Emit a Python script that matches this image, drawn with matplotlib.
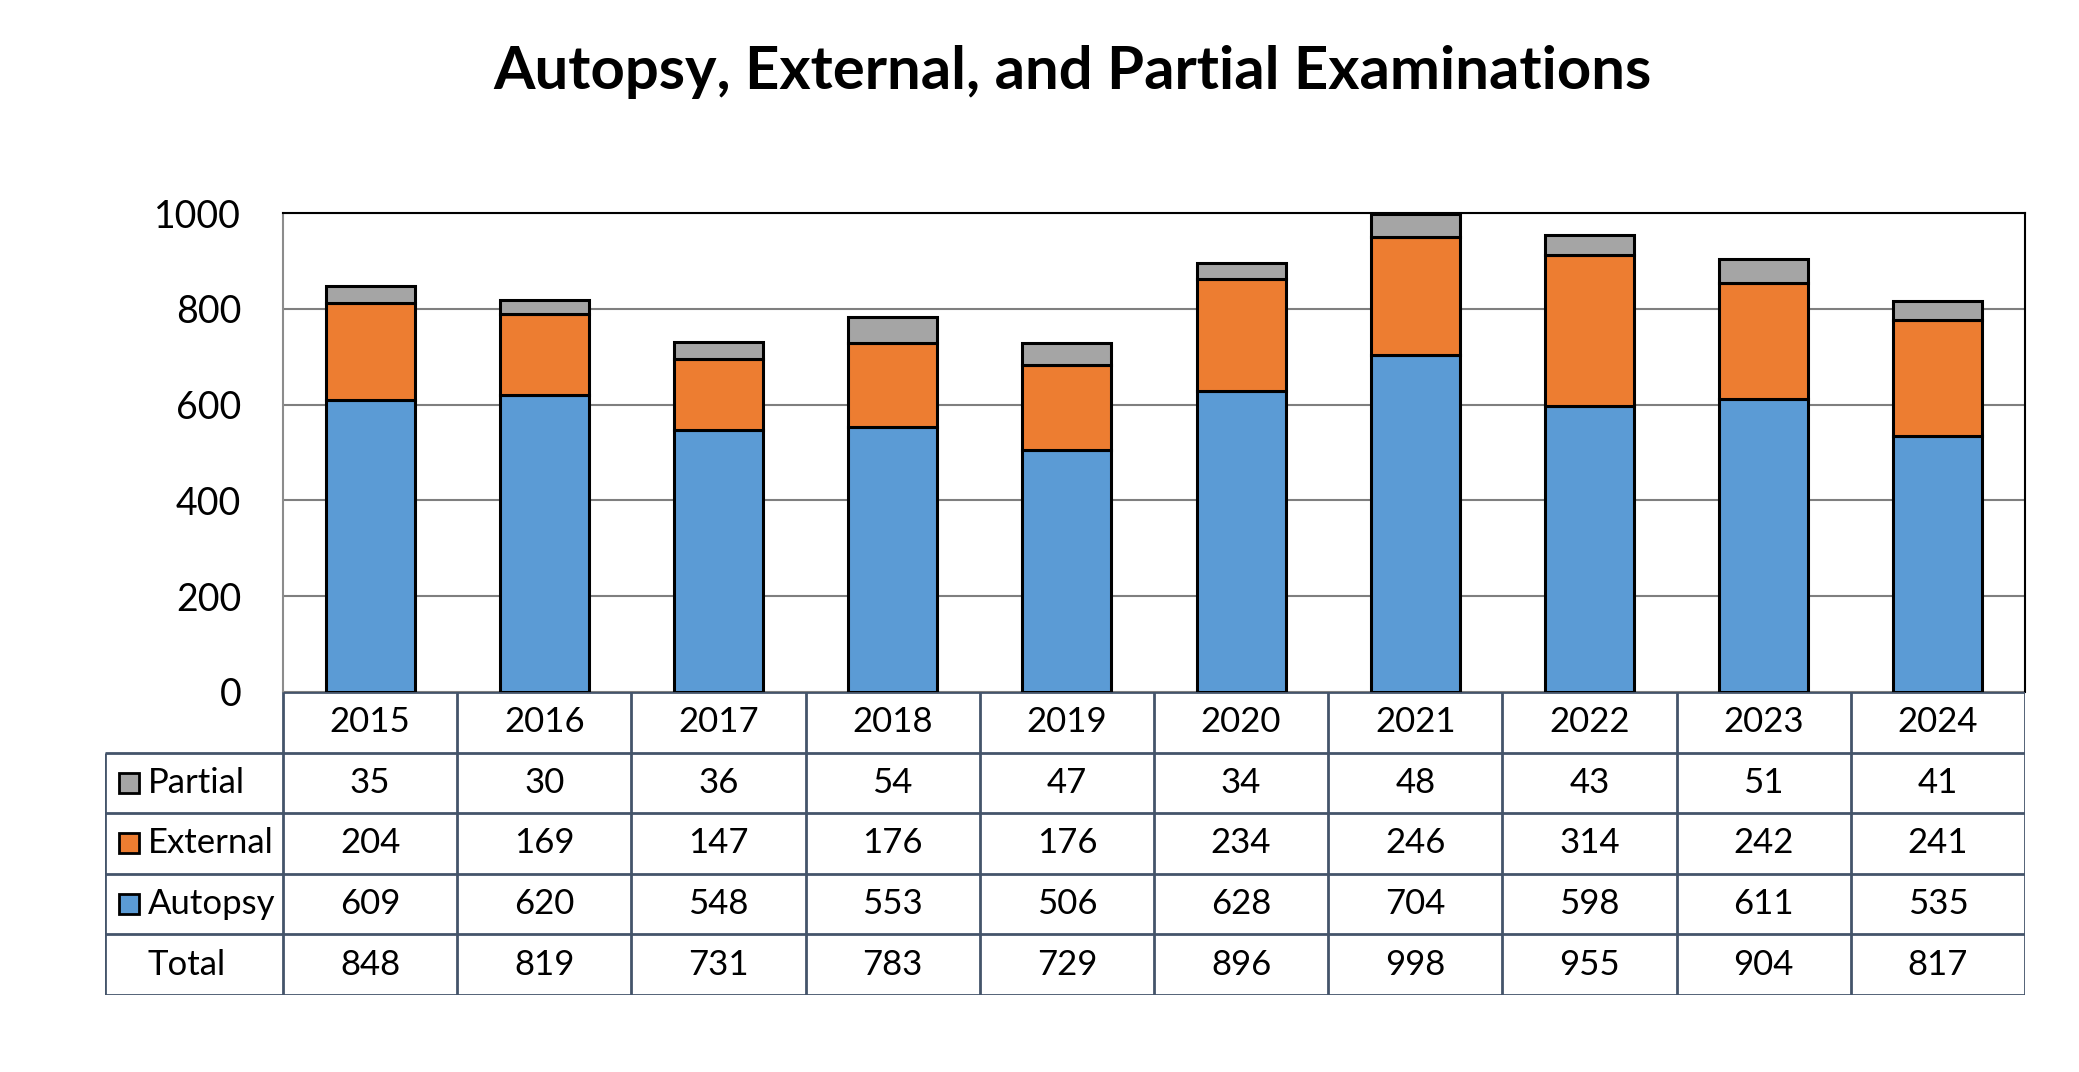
import matplotlib
matplotlib.use("Agg")
import matplotlib.pyplot as plt
from matplotlib.patches import Rectangle

# 数据
years = ["2015", "2016", "2017", "2018", "2019", "2020", "2021", "2022", "2023", "2024"]
autopsy = [609, 620, 548, 553, 506, 628, 704, 598, 611, 535]
external = [204, 169, 147, 176, 176, 234, 246, 314, 242, 241]
partial = [35, 30, 36, 54, 47, 34, 48, 43, 51, 41]
total = [848, 819, 731, 783, 729, 896, 998, 955, 904, 817]

series_colors = {"Autopsy": "#5B9BD5", "External": "#ED7D31", "Partial": "#A5A5A5"}

plt.rcParams["font.family"] = ["Lato", "DejaVu Sans"]

W, H = 2079, 1072
fig = plt.figure(figsize=(W / 100, H / 100), dpi=100)

# 主图区域（像素位置换算成比例）
px_left, px_right, px_top, px_bottom = 283, 2025, 213, 692
ax = fig.add_axes([px_left / W, 1 - px_bottom / H,
                   (px_right - px_left) / W, (px_bottom - px_top) / H])

x = list(range(len(years)))
bottom2 = [a + e for a, e in zip(autopsy, external)]
kw = dict(width=0.51, edgecolor="black", linewidth=2.2, zorder=3)
ax.bar(x, autopsy, color=series_colors["Autopsy"], **kw)
ax.bar(x, external, bottom=autopsy, color=series_colors["External"], **kw)
ax.bar(x, partial, bottom=bottom2, color=series_colors["Partial"], **kw)

ax.set_xlim(-0.5, len(years) - 0.5)
ax.set_ylim(0, 1000)
ax.set_yticks([0, 200, 400, 600, 800, 1000])
ax.set_xticks([])
ax.tick_params(axis="y", length=0, pad=30, labelsize=27)
ax.grid(axis="y", color="#7F7F7F", linewidth=1.5, zorder=0)
for side in ("top", "right"):
    ax.spines[side].set_color("black")
    ax.spines[side].set_linewidth(1.5)
ax.spines["left"].set_color("#8C8C8C")
ax.spines["left"].set_linewidth(1.5)
ax.spines["bottom"].set_visible(False)

# 数据表
tb_left, tb_top, tb_bottom = 105, 692, 995
tax = fig.add_axes([tb_left / W, 1 - tb_bottom / H,
                    (px_right - tb_left) / W, (tb_bottom - tb_top) / H])
col_w = (px_right - px_left) / len(years)
x0 = -0.5 - (px_left - tb_left) / col_w
tax.set_xlim(x0, len(years) - 0.5)
tax.set_ylim(0, 5)
tax.axis("off")

line_c = "#44546A"
lw = 2.0
for yy in range(0, 5):
    tax.plot([x0, len(years) - 0.5], [yy, yy], color=line_c, lw=lw, solid_capstyle="butt")
tax.plot([-0.5, len(years) - 0.5], [5, 5], color=line_c, lw=lw, solid_capstyle="butt")
tax.plot([x0, x0], [0, 4], color=line_c, lw=lw, solid_capstyle="butt")
for k in range(len(years) + 1):
    tax.plot([k - 0.5, k - 0.5], [0, 5], color=line_c, lw=lw, solid_capstyle="butt")

fs = 25
for i, yr in enumerate(years):
    tax.text(i, 4.5, yr, ha="center", va="center", fontsize=fs)

rows = [("Partial", partial), ("External", external), ("Autopsy", autopsy), ("Total", total)]
key_w = 20 / col_w
key_h = 20 / ((tb_bottom - tb_top) / 5)
for r, (name, vals) in enumerate(rows):
    yc = 3.5 - r
    for i, v in enumerate(vals):
        tax.text(i, yc, str(v), ha="center", va="center", fontsize=fs)
    tx = x0 + (148 - tb_left) / col_w
    tax.text(tx, yc, name, ha="left", va="center", fontsize=fs)
    if name in series_colors:
        kx = x0 + (119 - tb_left) / col_w
        tax.add_patch(Rectangle((kx, yc - key_h / 2), key_w, key_h,
                                facecolor=series_colors[name], edgecolor="black", lw=2))

fig.text(1072 / W, 1 - 72 / H, "Autopsy, External, and Partial Examinations",
         ha="center", va="center", fontsize=43, fontweight="bold")

fig.savefig("out.png", dpi=100)
